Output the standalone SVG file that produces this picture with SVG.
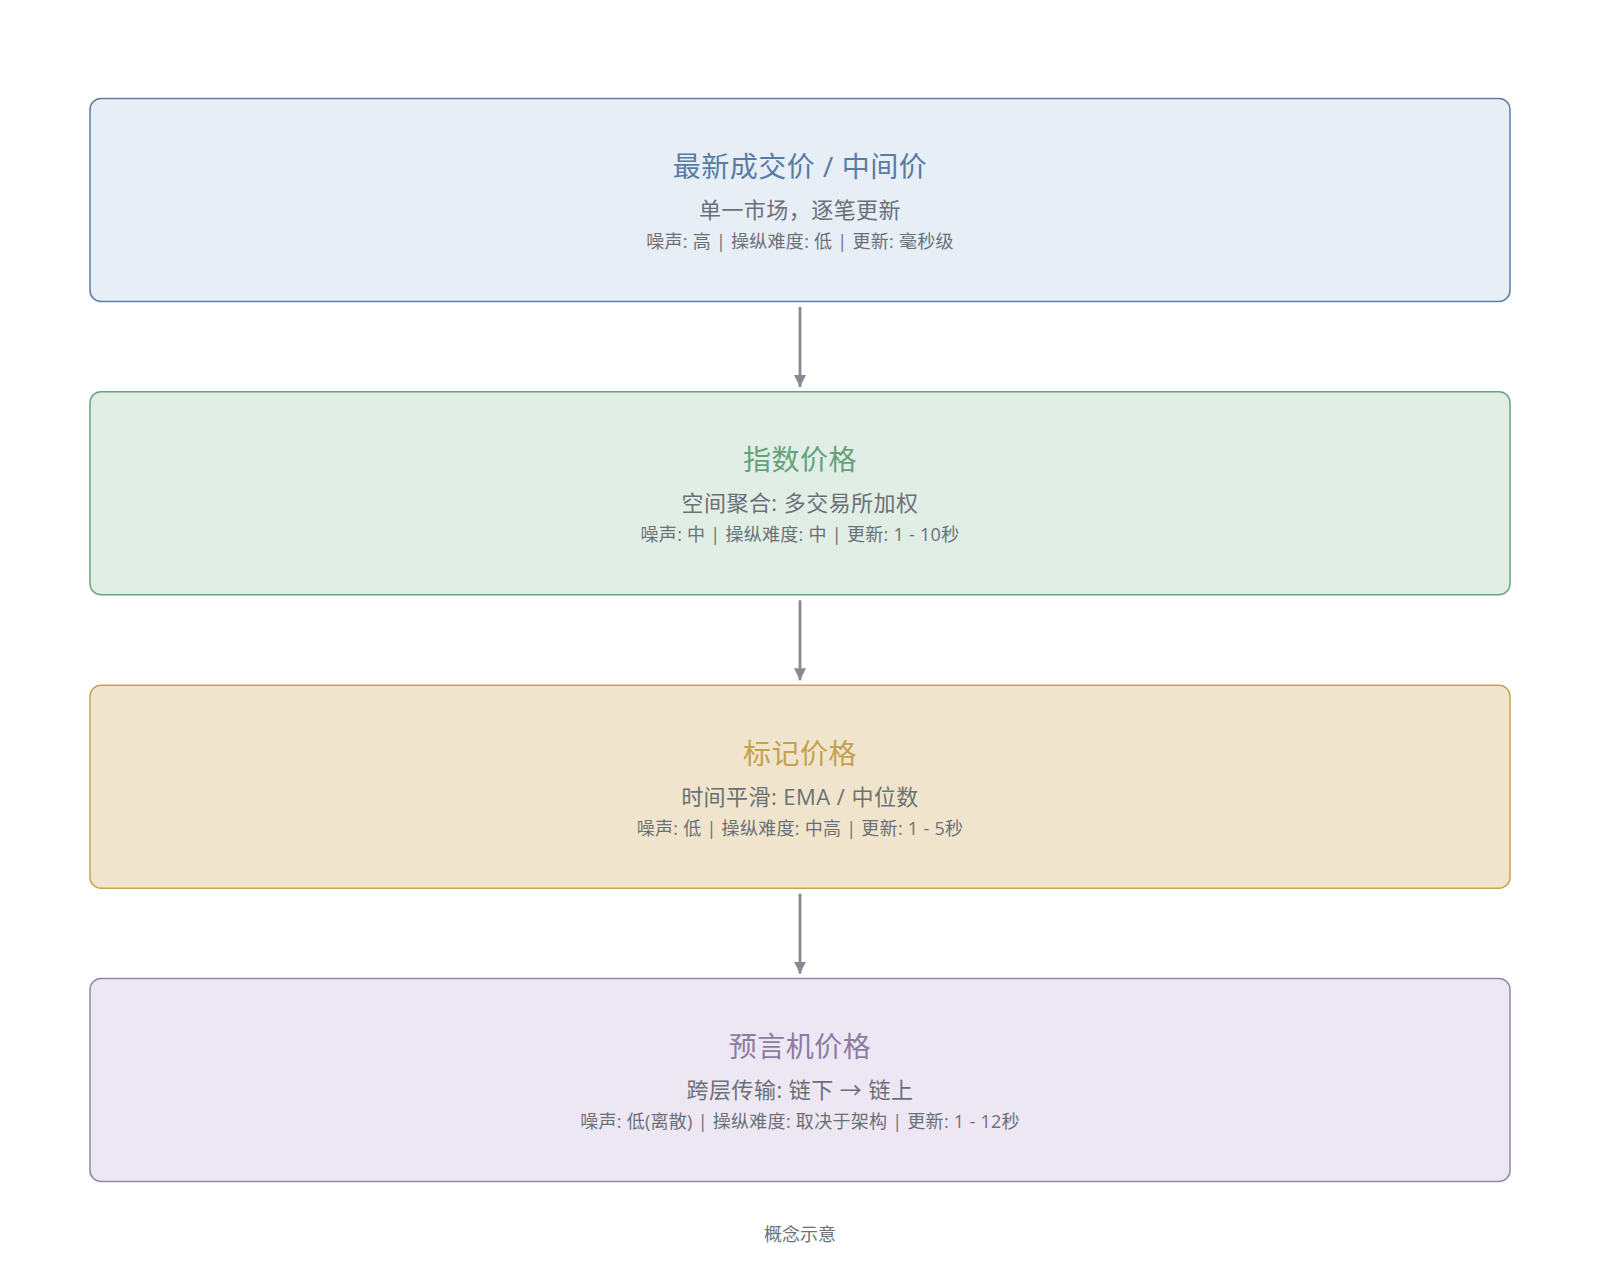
<svg xmlns="http://www.w3.org/2000/svg" width="1600" height="1280" viewBox="0 0 1600 1280">
<defs>
<style>
text{font-family:"Open Sans","Noto Sans CJK SC",sans-serif;text-anchor:middle}
.t{font-size:28px;font-weight:400;letter-spacing:0.5px}
.s{font-size:22px;fill:#6b7078;letter-spacing:0.45px}
.d{font-size:18px;fill:#6b7078;letter-spacing:0.28px}
.f{font-size:18px;fill:#6b7078}
.box{stroke-width:1.5}
</style>
<marker id="ah" viewBox="0 0 12 12" refX="12" refY="6" markerWidth="12" markerHeight="12" markerUnits="userSpaceOnUse" orient="auto">
<path d="M0,0 L12,6 L0,12 Z" fill="#878a92"/>
</marker>
</defs>
<rect width="1600" height="1280" fill="#ffffff"/>
<g id="node-last">
<rect class="box" x="90" y="98.5" width="1420" height="203" rx="11" fill="#e7eef6" stroke="#5a7ea6"/>
<text class="t" x="800" y="177" fill="#587ca4">最新成交价 / 中间价</text>
<text class="s" x="800" y="218">单一市场，逐笔更新</text>
<text class="d" x="800" y="248">噪声: 高 | 操纵难度: 低 | 更新: 毫秒级</text>
</g>
<g id="node-index">
<rect class="box" x="90" y="391.8" width="1420" height="203" rx="11" fill="#e1eee6" stroke="#67a67d"/>
<text class="t" x="800" y="470.3" fill="#65a27a">指数价格</text>
<text class="s" x="800" y="511.3">空间聚合: 多交易所加权</text>
<text class="d" x="800" y="541.3">噪声: 中 | 操纵难度: 中 | 更新: 1 - 10秒</text>
</g>
<g id="node-mark">
<rect class="box" x="90" y="685.2" width="1420" height="203" rx="11" fill="#f0e5cc" stroke="#c8a452"/>
<text class="t" x="800" y="763.7" fill="#c4a14e">标记价格</text>
<text class="s" x="800" y="804.7">时间平滑: EMA / 中位数</text>
<text class="d" x="800" y="834.7">噪声: 低 | 操纵难度: 中高 | 更新: 1 - 5秒</text>
</g>
<g id="node-oracle">
<rect class="box" x="90" y="978.5" width="1420" height="203" rx="11" fill="#ede7f3" stroke="#9585a8"/>
<text class="t" x="800" y="1057" fill="#8c7ba2">预言机价格</text>
<text class="s" x="800" y="1098">跨层传输: 链下 → 链上</text>
<text class="d" x="800" y="1128">噪声: 低(离散) | 操纵难度: 取决于架构 | 更新: 1 - 12秒</text>
</g>
<g id="connectors" stroke="#878a92" stroke-width="2.8" fill="none">
<line x1="800" y1="307" x2="800" y2="387" marker-end="url(#ah)"/>
<line x1="800" y1="600.3" x2="800" y2="680.3" marker-end="url(#ah)"/>
<line x1="800" y1="893.7" x2="800" y2="973.7" marker-end="url(#ah)"/>
</g>
<text class="f" x="800" y="1241">概念示意</text>
</svg>
